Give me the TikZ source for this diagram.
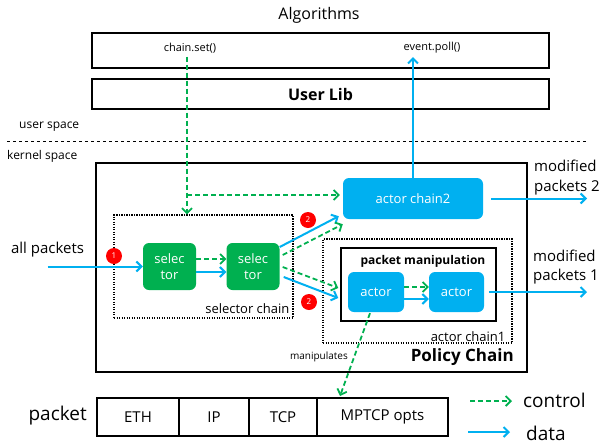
\documentclass[tikz,border=0pt]{standalone}
\usepackage{fontspec}
\setmainfont{Open Sans}
\usetikzlibrary{arrows.meta,calc,positioning}
\definecolor{ctrlgreen}{HTML}{00B050}
\definecolor{datablue}{HTML}{00B0F0}
\newcommand{\fsz}[2]{\fontsize{#1}{#2}\selectfont}

\begin{document}
\begin{tikzpicture}[x=1pt, y=-1pt,
    lbl/.style={inner sep=0pt},
    lbox/.style={draw, line width=1.6pt, inner sep=0pt},
    dbox/.style={draw, line width=1.2pt, dash pattern=on 1.2pt off 1.3pt, inner sep=0pt},
    gbox/.style={fill=ctrlgreen, rounded corners=6pt, text=white, align=center, inner sep=0pt, minimum width=53pt, minimum height=47pt, font=\fsz{13}{15.5}},
    bbox/.style={fill=datablue, rounded corners=6pt, text=white, inner sep=0pt, font=\fsz{13}{15.5}},
    ctl/.style={ctrlgreen, line width=1.8pt, dash pattern=on 5pt off 3pt, -{Straight Barb[length=5pt, width=10pt]}},
    dat/.style={datablue, line width=2pt, -{Straight Barb[length=5pt, width=10pt]}},
    num/.style={circle, fill=red, text=white, inner sep=0pt, minimum size=16pt, font=\fsz{8}{9}},
    cell/.style={draw, line width=1.5pt, outer sep=0pt, minimum height=38pt, inner sep=0pt, font=\fsz{15}{18}}]

    \useasboundingbox (0,0) rectangle (603,445);

    % user side
    \node[]                                          (alg)   at (319,15)    {\fsz{16}{19}Algorithms};
    \node[lbox, minimum width=457pt, minimum height=35pt] (api) at (320.5,50.5) {};
    \node[font=\fsz{11}{13}]                         (cset)  at (190,48)    {chain.set()};
    \node[font=\fsz{11}{13}]                         (epoll) at (432,48)    {event.poll()};
    \node[lbox, minimum width=457pt, minimum height=30pt, font=\bfseries\fsz{16}{19}] (ulib) at (320.5,94) {User Lib};

    \node[lbl, anchor=west, font=\fsz{12}{14}]       (usp)   at (19,127)    {user space};
    \coordinate (sepL) at (7,141);
    \coordinate (sepR) at (588,141);
    \draw[dashed, line width=1pt] (sepL) -- (sepR);
    \node[lbl, anchor=west, font=\fsz{12}{14}]       (ksp)   at (7,156)     {kernel space};

    % kernel side
    \node[lbox, line width=2pt, minimum width=431pt, minimum height=209pt] (policy) at (311.5,267.5) {};
    \node[lbl, anchor=base east, font=\bfseries\fsz{17}{20}] (ptitle) at (514,361) {Policy Chain};
    \node[lbl, anchor=east, font=\fsz{10}{12}]       (manip) at (348,357)   {manipulates};

    \node[dbox, minimum width=179pt, minimum height=103pt] (selchain) at (203.5,266.5) {};
    \node[lbl, anchor=south east, font=\fsz{13}{15}] at ($(selchain.south east)+(-4,-5)$) {selector chain};
    \node[gbox]                                      (sel1)  at (169.5,266.5) {selec\\tor};
    \node[gbox]                                      (sel2)  at (253,266.5)   {selec\\tor};

    \node[bbox, minimum width=140pt, minimum height=41pt] (ac2) at (413,198.5) {actor chain2};

    \node[dbox, minimum width=189pt, minimum height=104pt] (ac1) at (417.5,291) {};
    \node[lbl, anchor=south east, font=\fsz{13}{15}] at ($(ac1.south east)+(-7,-2)$) {actor chain1};
    \node[lbox, line width=1.5pt, minimum width=155pt, minimum height=73pt] (pktman) at (418.5,284.5) {};
    \node[lbl, font=\bfseries\fsz{12}{14}]           (pmtxt) at (423,261)   {packet manipulation};
    \node[bbox, minimum width=56pt, minimum height=40pt] (act1) at (376,292)   {actor};
    \node[bbox, minimum width=55pt, minimum height=40pt] (act2) at (456.5,292) {actor};

    \node[num] (n1)  at (114,256) {1};
    \node[num] (n2a) at (308,220) {2};
    \node[num] (n2b) at (309,302) {2};

    % flows
    \coordinate (cdown) at (187,195);
    \draw[ctl] (cset.south -| cdown) -- (selchain.north -| cdown);
    \draw[ctl] (cdown) -- ($(cdown -| ac2.west)+(-3,0)$);
    \draw[dat] (ac2.north) -- (ac2.north |- epoll.south);

    \node[lbl, font=\fsz{15}{18}] (allp) at (47.5,250) {all packets};
    \draw[dat] (allp.south |- sel1.west) -- (sel1.west);

    \draw[ctl] ($(sel1.east)+(0,-7.5)$) -- ($(sel2.west)+(0,-7.5)$);
    \draw[dat] ($(sel1.east)+(0,5.5)$)  -- ($(sel2.west)+(0,5.5)$);

    \draw[dat] ($(sel2.east)+(0,-19.5)$) -- ($(ac2.south west)+(-4,-3)$);
    \draw[ctl] ($(sel2.east)+(3,-11.5)$) -- ($(ac2.south west)+(0,5)$);
    \draw[ctl] ($(sel2.east)+(3,0.5)$)   -- ($(pktman.west)+(-2,3.5)$);
    \draw[dat] ($(sel2.east)+(4,10.5)$)  -- ($(pktman.west)+(-2,13.5)$);

    \draw[ctl] ($(act1.east)+(0,-5)$) -- ($(act2.west)+(0,-5)$);
    \draw[dat] ($(act1.east)+(0,7)$)  -- ($(act2.west)+(0,7)$);

    \coordinate (out2) at (587,198.5);
    \coordinate (out1) at (587,292);
    \draw[dat, shorten <=8pt] (ac2.east)  -- (out2);
    \draw[dat, shorten <=5pt] (act2.east) -- (out1);
    \node[lbl, anchor=west, align=left, font=\fsz{15}{19.5}] (mod2) at (534,177.5) {modified\\packets 2};
    \node[lbl, anchor=west, align=left, font=\fsz{15}{19.5}] (mod1) at (533,267)   {modified\\packets 1};

    % packet layout
    \node[cell, minimum width=82pt, anchor=west] (eth)   at (97,417) {ETH};
    \node[cell, minimum width=70pt, right=0pt of eth]   (ip)    {IP};
    \node[cell, minimum width=68pt, right=0pt of ip]    (tcp)   {TCP};
    \node[cell, minimum width=131pt, right=0pt of tcp]  (mptcp) {MPTCP opts};
    \node[lbl, anchor=east, font=\fsz{19}{22}] (pkt) at ($(eth.west)+(-10,-1)$) {packet};

    \draw[ctl] ($(act1.south)+(-6,1)$) -- ($(mptcp.north west)+(23,-2)$);

    % legend
    \coordinate (lgc1) at (470,401);
    \coordinate (lgc2) at (512,401);
    \coordinate (lgd1) at (468,432);
    \coordinate (lgd2) at (510,432);
    \draw[ctl] (lgc1) -- (lgc2);
    \draw[dat] (lgd1) -- (lgd2);
    \node[lbl, anchor=west, font=\fsz{19}{22}] (lctl) at (523,400) {control};
    \node[lbl, anchor=west, font=\fsz{19}{22}] (ldat) at (526,433) {data};

\end{tikzpicture}
\end{document}
